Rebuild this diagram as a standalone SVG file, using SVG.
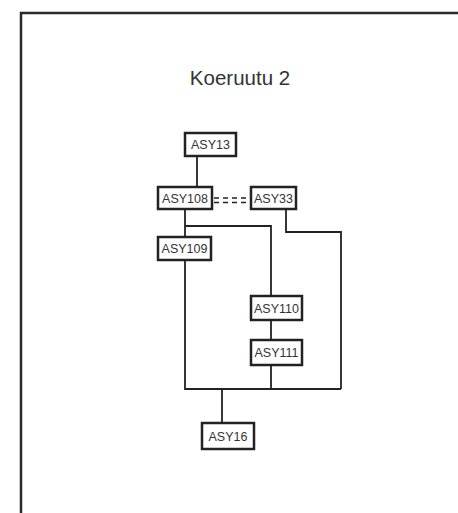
<svg xmlns="http://www.w3.org/2000/svg" width="458" height="513" viewBox="0 0 458 513">
<style>
.box{fill:#fff;stroke:#222;stroke-width:2.5}
.lbl{font-family:"Liberation Sans",Arial,sans-serif;font-size:12.5px;fill:#333;text-anchor:middle}
.ln{fill:none;stroke:#222;stroke-width:1.8}
.dash{fill:none;stroke:#222;stroke-width:1.6;stroke-dasharray:5 4}
</style>
<rect x="0" y="0" width="458" height="513" fill="#fff"/>
<path d="M21,520 V13 H470" fill="none" stroke="#2a2a2a" stroke-width="2.5"/>
<text x="240" y="85" font-family="'Liberation Sans',Arial,sans-serif" font-size="20.5" fill="#333" text-anchor="middle">Koeruutu 2</text>
<g id="connectors">
<path class="ln" d="M197,156 V187"/>
<path class="ln" d="M185,209 V237"/>
<path class="ln" d="M185,226 H271 V296"/>
<path class="ln" d="M271,320 V340"/>
<path class="ln" d="M286,209 V232 H341 V389"/>
<path class="ln" d="M185,260 V389 H341"/>
<path class="ln" d="M271,365 V389"/>
<path class="ln" d="M222,389 V423"/>
<path class="dash" d="M214,198 H250"/>
<path class="dash" d="M214,202.5 H250"/>
</g>
<g id="ASY13"><rect class="box" x="185" y="133" width="51" height="23"/><text class="lbl" x="210.5" y="149">ASY13</text></g>
<g id="ASY108"><rect class="box" x="158" y="187" width="54" height="22"/><text class="lbl" x="185" y="203">ASY108</text></g>
<g id="ASY33"><rect class="box" x="251" y="187" width="45" height="22"/><text class="lbl" x="273.5" y="203">ASY33</text></g>
<g id="ASY109"><rect class="box" x="158" y="237" width="53" height="23"/><text class="lbl" x="184.5" y="253">ASY109</text></g>
<g id="ASY110"><rect class="box" x="251" y="296" width="51" height="24"/><text class="lbl" x="276.5" y="312.5">ASY110</text></g>
<g id="ASY111"><rect class="box" x="251" y="340" width="51" height="25"/><text class="lbl" x="276.5" y="357">ASY111</text></g>
<g id="ASY16"><rect class="box" x="202" y="423" width="52" height="26"/><text class="lbl" x="228" y="440.5">ASY16</text></g>
</svg>
